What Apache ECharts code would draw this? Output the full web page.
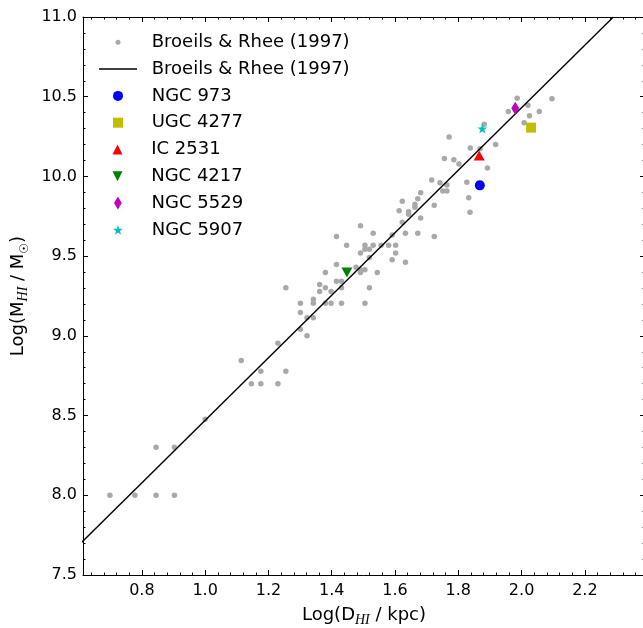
<!DOCTYPE html>
<html><head><meta charset="utf-8">
<script src="https://cdn.jsdelivr.net/npm/echarts@6/dist/echarts.min.js"></script>
<style>html,body{margin:0;padding:0;background:#fff}#c{width:643px;height:628px}</style>
</head><body><div id="c"></div>
<script>
// Broeils & Rhee (1997) sample: log(D_HI/kpc), log(M_HI/Msun)
const brLogD = [0.699,0.778,0.845,0.903,0.845,0.903,1.000,
 1.114,1.176,1.146,1.176,1.230,1.255,1.230,1.255,
 1.322,1.301,1.342,1.322,1.301,1.301,1.342,1.342,1.380,1.398,1.431,1.505,1.362,1.398,1.380,1.362,1.415,1.431,1.431,1.519,
 1.380,1.415,1.491,1.544,1.477,1.491,1.505,1.491,1.519,1.505,1.519,1.505,1.531,1.447,1.415,1.491,1.531,1.556,1.580,1.602,
 1.602,1.591,1.633,1.591,1.633,1.672,1.724,1.623,1.681,1.643,1.643,1.613,1.663,1.663,1.623,1.672,1.724,1.681,
 1.986,1.958,2.020,2.025,2.056,2.096,2.008,1.882,1.771,1.918,1.838,1.869,1.756,1.786,1.802,1.892,1.716,1.742,1.764,1.751,1.764,1.827,1.833,1.837];
const brLogM = [8.000,8.000,8.000,8.000,8.301,8.301,8.477,
 8.845,8.778,8.699,8.699,8.699,8.778,8.954,9.301,
 9.000,9.041,9.114,9.114,9.146,9.204,9.204,9.230,9.204,9.204,9.204,9.204,9.279,9.279,9.301,9.322,9.342,9.342,9.301,9.301,
 9.398,9.447,9.398,9.398,9.431,9.415,9.415,9.519,9.491,9.544,9.544,9.568,9.568,9.568,9.623,9.690,9.643,9.568,9.568,9.568,
 9.519,9.477,9.462,9.633,9.643,9.643,9.623,9.712,9.740,9.763,9.778,9.785,9.806,9.826,9.845,9.860,9.820,9.898,
 10.491,10.407,10.446,10.381,10.408,10.488,10.336,10.327,10.248,10.201,10.179,10.174,10.112,10.105,10.078,10.053,9.978,9.961,9.947,9.909,9.909,9.963,9.867,9.775];
// Broeils & Rhee (1997) relation end points
const fitLogD = [0.505, 2.290];
const fitLogM = [7.5, 11.0];
// individual galaxies
const galaxies = ['NGC 973','UGC 4277','IC 2531','NGC 4217','NGC 5529','NGC 5907'];
const galLogD = [1.868, 2.030, 1.866, 1.448, 1.980, 1.876];
const galLogM = [9.944, 10.306, 10.131, 9.398, 10.427, 10.300];
// axis ticks
const xTicks = [0.8, 1.0, 1.2, 1.4, 1.6, 1.8, 2.0, 2.2];
const yTicks = [7.5, 8.0, 8.5, 9.0, 9.5, 10.0, 10.5, 11.0];
const X_MIN = 0.614, X_MAX = 2.39;

const xMinor = [];
for (let i = 16; i <= 59; i++) { xMinor.push(+(i * 0.04).toFixed(2)); }
const xMinorIn = xMinor.filter(v => v > X_MIN && v < X_MAX);

const FONT = 'DejaVu Sans';
const galStyle = [
  {symbol: 'circle', w: 10, h: 10, color: '#0000ff'},
  {symbol: 'rect', w: 10, h: 10, color: '#bfbf00'},
  {symbol: 'path://M0,-1 L1,1 L-1,1 Z', w: 11, h: 10, color: '#ff0000'},
  {symbol: 'path://M-1,-1 L1,-1 L0,1 Z', w: 11, h: 10, color: '#008000'},
  {symbol: 'path://M0,-1 L0.6,0 L0,1 L-0.6,0 Z', w: 8, h: 13, color: '#bf00bf'},
  {symbol: 'path://M0,-1 L0.2245,-0.309 L0.951,-0.309 L0.363,0.118 L0.588,0.809 L0,0.382 L-0.588,0.809 L-0.363,0.118 L-0.951,-0.309 L-0.2245,-0.309 Z', w: 10, h: 10, color: '#00bfbf'}
];

const brName = 'Broeils & Rhee (1997)';
const fitName = 'Broeils & Rhee (1997) ';

const series = [
  {name: brName, type: 'scatter', xAxisIndex: 0, yAxisIndex: 0,
   data: brLogD.map((d, i) => [d, brLogM[i]]), symbol: 'circle', symbolSize: 5.5,
   itemStyle: {color: '#a9a9a9', opacity: 1}, z: 2},
  {name: fitName, type: 'line', xAxisIndex: 0, yAxisIndex: 0,
   data: fitLogD.map((d, i) => [d, fitLogM[i]]), symbol: 'none', clip: true,
   lineStyle: {color: '#000', width: 1.4}, itemStyle: {color: '#000'}, z: 3}
];
galaxies.forEach((g, i) => {
  series.push({name: g, type: 'scatter', xAxisIndex: 0, yAxisIndex: 0,
    data: [[galLogD[i], galLogM[i]]], symbol: galStyle[i].symbol,
    symbolSize: [galStyle[i].w, galStyle[i].h], symbolKeepAspect: false,
    itemStyle: {color: galStyle[i].color, opacity: 1}, z: 4});
});

// legend rows (one legend component per row so each icon keeps its own size)
const ICON_CX = 118, TEXT_X = 151.7, ROW0 = 41.3, ROW_STEP = 26.8;
const legendRows = [
  {name: brName, w: 5, h: 5},
  {name: fitName, w: 38, h: 1.5, icon: 'rect'}
].concat(galaxies.map((g, i) => ({name: g, w: galStyle[i].w, h: galStyle[i].h})));
const legends = legendRows.map((r, k) => {
  const left = ICON_CX - r.w / 2;
  const pad = TEXT_X - (left + r.w + 5);
  const cy = ROW0 + k * ROW_STEP;
  const item = r.icon ? {name: r.name, icon: r.icon} : {name: r.name};
  return {
    data: [item], orient: 'vertical', left: left, top: cy - 8, padding: 0,
    itemWidth: r.w, itemHeight: r.h, selectedMode: false,
    itemStyle: {opacity: 1},
    textStyle: {fontFamily: FONT, fontSize: 18, color: '#000', lineHeight: 16, padding: [0, 0, 0, pad]}
  };
});

const lineBlack = {lineStyle: {color: '#000', width: 1}};
const richName = {
  n: {fontFamily: FONT, fontSize: 18, color: '#000', lineHeight: 24},
  s: {fontFamily: 'Liberation Serif', fontStyle: 'italic', fontSize: 14, color: '#000', lineHeight: 12, verticalAlign: 'bottom'},
  o: {fontFamily: FONT, fontSize: 12, color: '#000', lineHeight: 12, verticalAlign: 'bottom'}
};

const option = {
  animation: false,
  backgroundColor: '#fff',
  grid: {left: 83, top: 17, width: 562, height: 558, containLabel: false, outerBoundsMode: 'none'},
  legend: legends,
  xAxis: [
    {type: 'value', min: X_MIN, max: X_MAX, position: 'bottom',
     axisLine: lineBlack, splitLine: {show: false},
     axisTick: {inside: true, length: 5, customValues: xTicks, lineStyle: {color: '#000'}},
     axisLabel: {customValues: xTicks, formatter: v => v.toFixed(1), fontFamily: FONT, fontSize: 16, color: '#000', margin: 8},
     name: '{n|Log(D}{s|HI}{n| / kpc)}', nameLocation: 'middle', nameGap: 28,
     nameTextStyle: {rich: richName}},
    {type: 'value', min: X_MIN, max: X_MAX, position: 'bottom',
     axisLine: {show: false}, splitLine: {show: false}, axisLabel: {show: false},
     axisTick: {inside: true, length: 2.5, customValues: xMinorIn, lineStyle: {color: '#000'}}},
    {type: 'value', min: X_MIN, max: X_MAX, position: 'top',
     axisLine: lineBlack, splitLine: {show: false}, axisLabel: {show: false},
     axisTick: {inside: true, length: 5, customValues: xTicks, lineStyle: {color: '#000'}}},
    {type: 'value', min: X_MIN, max: X_MAX, position: 'top',
     axisLine: {show: false}, splitLine: {show: false}, axisLabel: {show: false},
     axisTick: {inside: true, length: 2.5, customValues: xMinorIn, lineStyle: {color: '#000'}}}
  ],
  yAxis: [
    {type: 'value', min: yTicks[0], max: yTicks[yTicks.length - 1], interval: 0.5, position: 'left',
     axisLine: lineBlack, splitLine: {show: false},
     axisTick: {inside: true, length: 5, lineStyle: {color: '#000'}},
     minorTick: {show: true, splitNumber: 5, length: 2.5, lineStyle: {color: '#000'}},
     axisLabel: {formatter: v => v.toFixed(1), fontFamily: FONT, fontSize: 16, color: '#000', margin: 6},
     name: '{n|Log(M}{s|HI}{n| / M}{o|☉}{n|)}', nameLocation: 'middle', nameGap: 48, nameRotate: 90,
     nameTextStyle: {rich: richName}},
    {type: 'value', min: yTicks[0], max: yTicks[yTicks.length - 1], interval: 0.5, position: 'right',
     axisLine: lineBlack, splitLine: {show: false}, axisLabel: {show: false},
     axisTick: {inside: true, length: 5, lineStyle: {color: '#000'}},
     minorTick: {show: true, splitNumber: 5, length: 2.5, lineStyle: {color: '#000'}}}
  ],
  series: series
};
const chart = echarts.init(document.getElementById('c'), null, {renderer: 'canvas'});
chart.setOption(option);
</script></body></html>
